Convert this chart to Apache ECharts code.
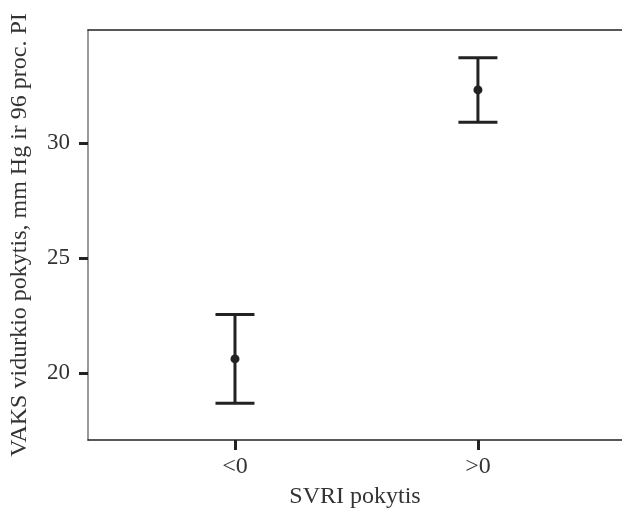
<!DOCTYPE html>
<html>
<head>
<meta charset="utf-8">
<script src="https://cdn.jsdelivr.net/npm/echarts@6/dist/echarts.min.js"></script>
<style>html,body{margin:0;padding:0;background:#fff}#chart{width:622px;height:509px}</style>
</head>
<body>
<div id="chart"></div>
<script>
// SVRI pokytis grupės ir VAKS vidurkio pokytis su 96 proc. PI
var groupLabels = ['<0', '>0'];
var groupPos = [1, 2];
var means = [20.62, 32.3];
var lower = [18.7, 30.9];
var upper = [22.55, 33.7];
var yTicks = [20, 25, 30];

var font = '"Liberation Serif", "DejaVu Serif", serif';
var chart = echarts.init(document.getElementById('chart'));

var barData = groupPos.map(function (x, i) {
    return [x, means[i], lower[i], upper[i]];
});

chart.setOption({
    backgroundColor: '#fff',
    animation: false,
    grid: { left: 88, right: 0, top: 30, bottom: 69, outerBoundsMode: 'none', containLabel: false },
    xAxis: [{
        type: 'value',
        min: 0.395,
        max: 2.593,
        name: 'SVRI pokytis',
        nameLocation: 'middle',
        nameGap: 45,
        nameTextStyle: { fontFamily: font, fontSize: 24, color: '#333' },
        splitLine: { show: false },
        axisLine: { lineStyle: { color: '#222', width: 1.5 } },
        axisTick: { customValues: groupPos, length: 10, lineStyle: { color: '#222', width: 3 } },
        axisLabel: {
            customValues: groupPos,
            margin: 15,
            fontFamily: font, fontSize: 24, color: '#333',
            formatter: function (v) { return groupLabels[groupPos.indexOf(v)] || ''; }
        }
    }, {
        type: 'value',
        position: 'top',
        min: 0.395,
        max: 2.593,
        splitLine: { show: false },
        axisLine: { show: true, lineStyle: { color: '#222', width: 1.5 } },
        axisTick: { show: false },
        axisLabel: { show: false }
    }],
    yAxis: {
        type: 'value',
        min: 17.1,
        max: 34.9,
        name: 'VAKS vidurkio pokytis, mm Hg ir 96 proc. PI',
        nameLocation: 'middle',
        nameGap: 56,
        nameTextStyle: { fontFamily: font, fontSize: 24, color: '#333' },
        splitLine: { show: false },
        axisLine: { show: true, lineStyle: { color: '#777', width: 1.5 } },
        axisTick: { customValues: yTicks, length: 9, lineStyle: { color: '#222', width: 3 } },
        axisLabel: { customValues: yTicks, margin: 18, fontFamily: font, fontSize: 23, color: '#333' }
    },
    series: [{
        type: 'custom',
        data: barData,
        renderItem: function (params, api) {
            var x = api.value(0);
            var mid = api.coord([x, api.value(1)]);
            var lo = api.coord([x, api.value(2)]);
            var hi = api.coord([x, api.value(3)]);
            var half = 19.5;
            var st = { stroke: '#222', lineWidth: 3 };
            return {
                type: 'group',
                children: [
                    { type: 'line', shape: { x1: lo[0], y1: lo[1], x2: hi[0], y2: hi[1] }, style: st },
                    { type: 'line', shape: { x1: lo[0] - half, y1: lo[1], x2: lo[0] + half, y2: lo[1] }, style: st },
                    { type: 'line', shape: { x1: hi[0] - half, y1: hi[1], x2: hi[0] + half, y2: hi[1] }, style: st },
                    { type: 'circle', shape: { cx: mid[0], cy: mid[1], r: 4.5 }, style: { fill: '#222' } }
                ]
            };
        }
    }]
});
</script>
</body>
</html>
